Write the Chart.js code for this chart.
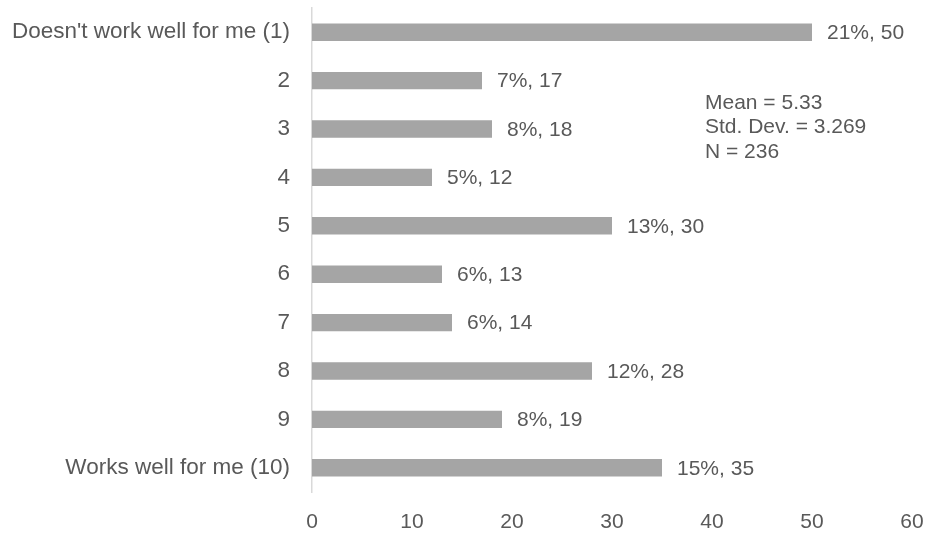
<!DOCTYPE html>
<html>
<head>
<meta charset="utf-8">
<script src="https://cdn.jsdelivr.net/npm/chart.js@4.4.1/dist/chart.umd.min.js"></script>
<style>
  html, body { margin: 0; padding: 0; background: #fff; }
  #wrap { width: 928px; height: 535px; position: relative; }
</style>
</head>
<body>
<div id="wrap"><canvas id="barChart"></canvas></div>
<script>
// rating categories, counts and share of respondents
const categories = ["Doesn't work well for me (1)", '2', '3', '4', '5', '6', '7', '8', '9', 'Works well for me (10)'];
const counts = [50, 17, 18, 12, 30, 13, 14, 28, 19, 35];
const percents = [21, 7, 8, 5, 13, 6, 6, 12, 8, 15];
const xTicks = [0, 10, 20, 30, 40, 50, 60];
const statLines = ['Mean = 5.33', 'Std. Dev. = 3.269', 'N = 236'];

const FONT = "'Liberation Sans', Arial, sans-serif";
const TEXT_COLOR = '#595959';

// "21%, 50" style labels after each bar, plus the stats block
const valueLabels = {
    id: 'valueLabels',
    afterDatasetsDraw(chart) {
        const ctx = chart.ctx;
        const meta = chart.getDatasetMeta(0);
        ctx.save();
        ctx.font = '21px ' + FONT;
        ctx.fillStyle = TEXT_COLOR;
        ctx.textBaseline = 'middle';
        ctx.textAlign = 'left';
        meta.data.forEach((bar, i) => {
            ctx.fillText(percents[i] + '%, ' + counts[i], bar.x + 15, bar.y + 1);
        });

        const area = chart.chartArea;
        statLines.forEach((line, i) => {
            ctx.fillText(line, area.left + 393, area.top + 95 + i * 24.5);
        });
        ctx.restore();
    }
};

document.addEventListener('DOMContentLoaded', function() {
    const ctxBar = document.getElementById('barChart');
    new Chart(ctxBar, {
        type: 'bar',
        data: {
            labels: categories,
            datasets: [{
                data: counts,
                backgroundColor: '#a5a5a5',
                barPercentage: 0.72,
                categoryPercentage: 0.5
            }]
        },
        options: {
            indexAxis: 'y',
            responsive: true,
            maintainAspectRatio: false,
            animation: false,
            layout: { padding: { top: 8, right: 16, left: 0, bottom: 0 } },
            plugins: {
                legend: { display: false },
                tooltip: { enabled: false }
            },
            scales: {
                x: {
                    min: 0,
                    max: 60,
                    afterBuildTicks(scale) {
                        scale.ticks = xTicks.map(v => ({ value: v }));
                    },
                    afterFit(scale) {
                        scale.height = 43;
                        scale.paddingLeft = 0;
                        scale.paddingRight = 0;
                    },
                    grid: { display: false, drawTicks: false },
                    border: { display: false },
                    ticks: {
                        padding: 18,
                        color: TEXT_COLOR,
                        font: { family: FONT, size: 21 }
                    }
                },
                y: {
                    afterFit(scale) {
                        scale.width = 312;
                        scale.paddingTop = 0;
                        scale.paddingBottom = 0;
                    },
                    grid: { display: false, drawTicks: false },
                    border: { display: true, color: '#d9d9d9', width: 1.5 },
                    ticks: {
                        padding: 22,
                        color: TEXT_COLOR,
                        font: { family: FONT, size: 22.5 }
                    }
                }
            }
        },
        plugins: [valueLabels]
    });
});
</script>
</body>
</html>
